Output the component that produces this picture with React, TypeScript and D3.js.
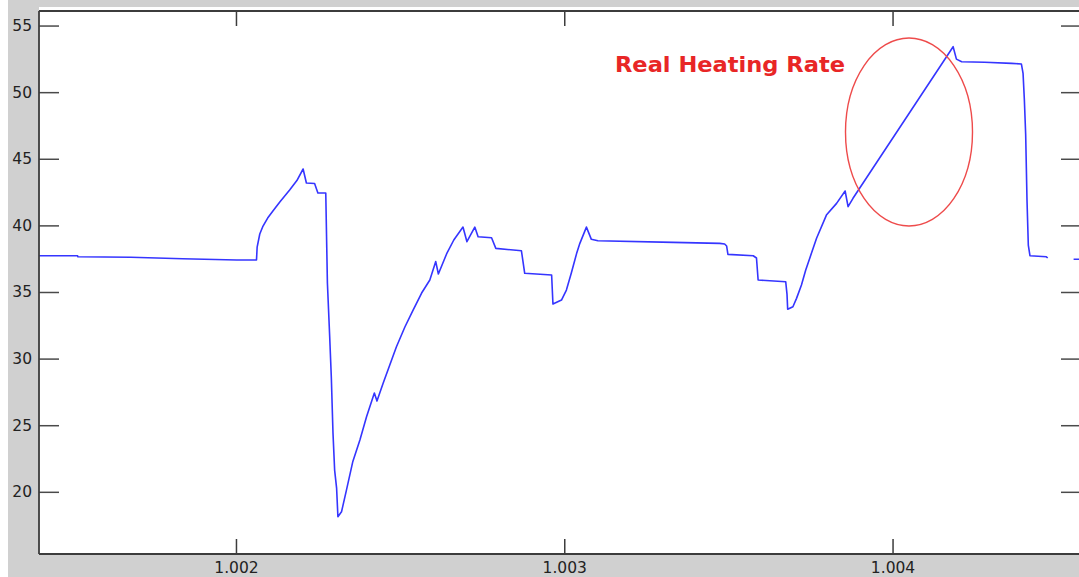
import React from "react";
import * as d3 from "d3";

// Time stamps (x) and measured temperature (y); null marks a dropout in the record.
const timeValues: number[] = [
  1.001398, 1.001516, 1.001517, 1.001678, 1.001836, 1.002001, 1.002061, 1.002063,
  1.002071, 1.00208, 1.002095, 1.002111, 1.002132, 1.002162, 1.002184, 1.002203,
  1.002213, 1.002238, 1.002248, 1.002272, 1.002277, 1.002284, 1.002289, 1.002294,
  1.002299, 1.002305, 1.002309, 1.00232, 1.002335, 1.002354, 1.002376, 1.002396,
  1.00242, 1.002428, 1.002447, 1.002467, 1.002487, 1.002513, 1.002538, 1.002564,
  1.002589, 1.002607, 1.002615, 1.00264, 1.002662, 1.00269, 1.002702, 1.002726,
  1.002736, 1.002777, 1.00279, 1.002868, 1.002878, 1.00296, 1.002964, 1.00299,
  1.003005, 1.00302, 1.003036, 1.003046, 1.003066, 1.003081, 1.003101, 1.00333,
  1.003472, 1.003487, 1.003493, 1.003497, 1.003574, 1.003584, 1.003589, 1.003673,
  1.003677, 1.003679, 1.003695, 1.003706, 1.003721, 1.003734, 1.003746, 1.003767,
  1.003797, 1.003828, 1.003854, 1.003863, 1.003878, 1.004183, 1.004193, 1.004209,
  1.004279, 1.004361, 1.004391, 1.004396, 1.0044, 1.004404, 1.004408, 1.004412,
  1.004417, 1.004467, 1.004471, 1.00451, 1.00455, 1.004572,
];

const temperatureValues: (number | null)[] = [
  37.76, 37.76, 37.68, 37.64, 37.53, 37.44, 37.44, 38.41,
  39.39, 39.94, 40.59, 41.11, 41.79, 42.69, 43.4, 44.27,
  43.22, 43.18, 42.47, 42.47, 35.71, 31.66, 28.58, 24.45,
  21.67, 20.32, 18.17, 18.54, 20.17, 22.27, 23.93, 25.65,
  27.45, 26.85, 28.2, 29.56, 30.91, 32.41, 33.68, 34.96,
  35.94, 37.32, 36.39, 37.89, 38.94, 39.91, 38.81, 39.91,
  39.19, 39.11, 38.31, 38.13, 36.44, 36.31, 34.13, 34.43,
  35.18, 36.46, 37.92, 38.69, 39.91, 38.99, 38.88, 38.76,
  38.69, 38.64, 38.49, 37.86, 37.76, 37.59, 35.94, 35.81,
  34.86, 33.74, 33.93, 34.56, 35.56, 36.69, 37.56, 39.07,
  40.81, 41.69, 42.62, 41.44, 42.07, 53.45, 52.52, 52.32,
  52.28, 52.2, 52.15, 51.45, 49.45, 46.82, 41.94, 38.56,
  37.76, 37.68, 37.59, null, 37.49, 37.49,
];

const yTicks: number[] = [20, 25, 30, 35, 40, 45, 50, 55];
const xTicks: number[] = [1.002, 1.003, 1.004];
const xTickLabels: string[] = ["1.002", "1.003", "1.004"];
const annotationText = "Real Heating Rate";

export default function App() {
  const width = 1079;
  const height = 577;
  const left = 39;
  const right = 1081;
  const top = 11;
  const bottom = 554;

  const x = d3.scaleLinear().domain([1.0013985, 1.0045725]).range([left, right]);
  const y = d3.scaleLinear().domain([15.37, 56.13]).range([bottom, top]);

  const points = timeValues.map((t, i) => ({ t, v: temperatureValues[i] }));
  const line = d3
    .line<{ t: number; v: number | null }>()
    .defined((d) => d.v !== null)
    .x((d) => x(d.t))
    .y((d) => y(d.v as number));

  const axisColor = "#3c3c3c";
  const tickColor = "#4a4a4a";
  const labelFont = "DejaVu Sans, Verdana, sans-serif";

  return (
    <svg
      width={width}
      height={height}
      style={{ position: "absolute", left: 0, top: 0, display: "block" }}
    >
      <rect x={0} y={0} width={width} height={height} fill="#ffffff" />
      <rect x={8} y={0} width={width - 8} height={height} fill="#d0d0d0" />
      <rect x={left} y={7} width={right - left} height={bottom - 7} fill="#ffffff" />

      <defs>
        <clipPath id="plot-area">
          <rect x={left} y={top} width={right - left} height={bottom - top} />
        </clipPath>
      </defs>

      {/* y ticks on both sides */}
      {yTicks.map((v) => (
        <g key={"y" + v}>
          <line x1={left} x2={left + 20} y1={y(v)} y2={y(v)} stroke={tickColor} strokeWidth={1.5} />
          <line x1={right - 20} x2={right} y1={y(v)} y2={y(v)} stroke={tickColor} strokeWidth={1.5} />
          <text
            x={32}
            y={y(v)}
            textAnchor="end"
            dominantBaseline="central"
            fontFamily={labelFont}
            fontSize={15.5}
            fill="#222"
          >
            {v}
          </text>
        </g>
      ))}

      {/* x ticks on top and bottom */}
      {xTicks.map((v, i) => (
        <g key={"x" + v}>
          <line x1={x(v)} x2={x(v)} y1={bottom} y2={bottom - 15} stroke={axisColor} strokeWidth={1.5} />
          <line x1={x(v)} x2={x(v)} y1={top} y2={top + 15} stroke={axisColor} strokeWidth={1.5} />
          <text
            x={x(v)}
            y={573}
            textAnchor="middle"
            fontFamily={labelFont}
            fontSize={15.5}
            fill="#222"
          >
            {xTickLabels[i]}
          </text>
        </g>
      ))}

      <path
        d={line(points) || ""}
        fill="none"
        stroke="#3535ff"
        strokeWidth={1.6}
        strokeLinejoin="round"
        clipPath="url(#plot-area)"
      />

      {/* plot frame */}
      <line x1={left} x2={right} y1={top} y2={top} stroke={axisColor} strokeWidth={2} />
      <line x1={left} x2={right} y1={bottom} y2={bottom} stroke={axisColor} strokeWidth={1.8} />
      <line x1={left} x2={left} y1={top} y2={bottom} stroke={axisColor} strokeWidth={1.8} />

      {/* annotation */}
      <ellipse cx={909} cy={132} rx={63.5} ry={94} fill="none" stroke="#ee4b4b" strokeWidth={1.4} />
      <text
        x={615}
        y={72}
        fontFamily="DejaVu Sans, Verdana, sans-serif"
        fontWeight="bold"
        fontSize={21.5}
        fill="#e82626"
        textLength={230}
        lengthAdjust="spacingAndGlyphs"
      >
        {annotationText}
      </text>
    </svg>
  );
}
